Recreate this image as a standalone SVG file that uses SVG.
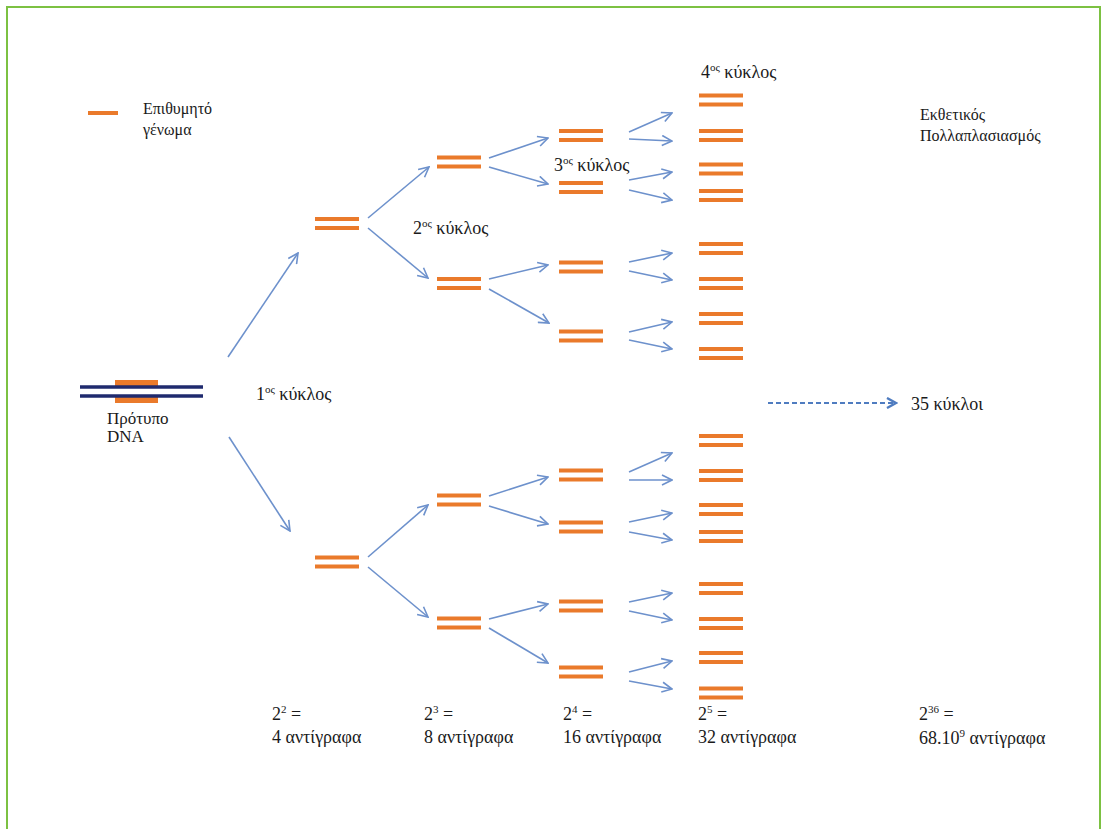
<svg xmlns="http://www.w3.org/2000/svg" width="1103" height="829" viewBox="0 0 1103 829" font-family="'Liberation Serif', 'DejaVu Serif', serif">
<style>
text{font-family:'Liberation Serif','Times New Roman',serif;fill:#1a1a1a;font-size:18px}
.sm{font-size:16px}
.md{font-size:17px}
.sup{font-size:11px}
.pl{stroke:#ea7a2b;stroke-width:4;fill:none}
.ar{stroke:#6d91cc;stroke-width:1.6;fill:none;marker-end:url(#ah)}
</style>
<defs>
<marker id="ah" viewBox="0 0 12 12" refX="11" refY="6" markerWidth="12" markerHeight="12" markerUnits="userSpaceOnUse" orient="auto">
<path d="M1,1 L11,6 L1,11" fill="none" stroke="#6d91cc" stroke-width="1.6"/>
</marker>
<marker id="dh" viewBox="0 0 12 12" refX="10" refY="6" markerWidth="12" markerHeight="12" markerUnits="userSpaceOnUse" orient="auto">
<path d="M1,1 L10,6 L1,11" fill="none" stroke="#4f7cc0" stroke-width="2.4"/>
</marker>
<g id="pair"><line class="pl" x1="0" y1="-4.5" x2="44" y2="-4.5"/><line class="pl" x1="0" y1="4.5" x2="44" y2="4.5"/></g>
</defs>
<rect x="0" y="0" width="1103" height="829" fill="#fff"/>
<rect x="7" y="7" width="1093" height="840" fill="none" stroke="#7cc142" stroke-width="2"/>

<g id="legend">
<line x1="88" y1="113" x2="118" y2="113" stroke="#ea7a2b" stroke-width="4"/>
<text class="sm" x="143" y="114">Επιθυμητό</text>
<text class="sm" x="143" y="135">γένωμα</text>
</g>

<g id="template">
<rect x="115" y="380" width="43" height="8" fill="#ea7a2b"/>
<rect x="115" y="395" width="43" height="8" fill="#ea7a2b"/>
<line x1="80" y1="387" x2="203" y2="387" stroke="#1f2a6e" stroke-width="3.5"/>
<line x1="80" y1="396" x2="203" y2="396" stroke="#1f2a6e" stroke-width="3.5"/>
<text class="md" x="107" y="424">Πρότυπο</text>
<text class="md" x="107" y="442">DNA</text>
</g>

<g id="level1">
<use href="#pair" x="315" y="223.5"/>
<use href="#pair" x="315" y="562"/>
</g>
<g id="level2">
<use href="#pair" x="437" y="162"/>
<use href="#pair" x="437" y="283.5"/>
<use href="#pair" x="437" y="500"/>
<use href="#pair" x="437" y="623"/>
</g>
<g id="level3">
<use href="#pair" x="559" y="135.5"/>
<use href="#pair" x="559" y="187.5"/>
<use href="#pair" x="559" y="267"/>
<use href="#pair" x="559" y="336"/>
<use href="#pair" x="559" y="475"/>
<use href="#pair" x="559" y="527"/>
<use href="#pair" x="559" y="606"/>
<use href="#pair" x="559" y="672"/>
</g>
<g id="level4">
<use href="#pair" x="699" y="100"/>
<use href="#pair" x="699" y="135.5"/>
<use href="#pair" x="699" y="169"/>
<use href="#pair" x="699" y="195.5"/>
<use href="#pair" x="699" y="248.5"/>
<use href="#pair" x="699" y="283.5"/>
<use href="#pair" x="699" y="318.5"/>
<use href="#pair" x="699" y="353.5"/>
<use href="#pair" x="699" y="440.5"/>
<use href="#pair" x="699" y="475.5"/>
<use href="#pair" x="699" y="509.5"/>
<use href="#pair" x="699" y="536.5"/>
<use href="#pair" x="699" y="588.5"/>
<use href="#pair" x="699" y="623.5"/>
<use href="#pair" x="699" y="657.5"/>
<use href="#pair" x="699" y="693"/>
</g>

<g id="connectors">
<line class="ar" x1="228" y1="357" x2="298" y2="253"/>
<line class="ar" x1="229" y1="437" x2="290" y2="531"/>
<line class="ar" x1="368" y1="218" x2="429" y2="167"/>
<line class="ar" x1="368" y1="228" x2="428" y2="278"/>
<line class="ar" x1="368" y1="557" x2="428" y2="505"/>
<line class="ar" x1="368" y1="567" x2="428" y2="617"/>
<line class="ar" x1="489" y1="158" x2="548" y2="138"/>
<line class="ar" x1="489" y1="167" x2="548" y2="184"/>
<line class="ar" x1="489" y1="279" x2="548" y2="265"/>
<line class="ar" x1="489" y1="289" x2="549" y2="323"/>
<line class="ar" x1="489" y1="496" x2="548" y2="477"/>
<line class="ar" x1="489" y1="506" x2="548" y2="524"/>
<line class="ar" x1="489" y1="619" x2="548" y2="604"/>
<line class="ar" x1="489" y1="628" x2="548" y2="663"/>
<line class="ar" x1="629" y1="132" x2="672" y2="113"/>
<line class="ar" x1="629" y1="139" x2="672" y2="141"/>
<line class="ar" x1="629" y1="180" x2="672" y2="172"/>
<line class="ar" x1="629" y1="190" x2="672" y2="200"/>
<line class="ar" x1="629" y1="262" x2="672" y2="253"/>
<line class="ar" x1="629" y1="271" x2="672" y2="280"/>
<line class="ar" x1="629" y1="332" x2="672" y2="322"/>
<line class="ar" x1="629" y1="340" x2="672" y2="349"/>
<line class="ar" x1="629" y1="472" x2="672" y2="453"/>
<line class="ar" x1="629" y1="480" x2="672" y2="480"/>
<line class="ar" x1="629" y1="522" x2="672" y2="513"/>
<line class="ar" x1="629" y1="532" x2="672" y2="540"/>
<line class="ar" x1="629" y1="602" x2="672" y2="593"/>
<line class="ar" x1="629" y1="611" x2="672" y2="620"/>
<line class="ar" x1="629" y1="672" x2="672" y2="661"/>
<line class="ar" x1="629" y1="681" x2="672" y2="689"/>
<line x1="768" y1="403" x2="896" y2="403" stroke="#4f7cc0" stroke-width="1.8" stroke-dasharray="5,3" marker-end="url(#dh)"/>
</g>

<g id="cycle-labels">
<text x="256" y="400">1<tspan class="sup" dy="-7">ος</tspan><tspan dy="7"> κύκλος</tspan></text>
<text x="413" y="234">2<tspan class="sup" dy="-7">ος</tspan><tspan dy="7"> κύκλος</tspan></text>
<text x="554" y="171">3<tspan class="sup" dy="-7">ος</tspan><tspan dy="7"> κύκλος</tspan></text>
<text x="701" y="78">4<tspan class="sup" dy="-7">ος</tspan><tspan dy="7"> κύκλος</tspan></text>
<text x="911" y="410" font-size="18.5">35 κύκλοι</text>
<text class="sm" x="920" y="120">Εκθετικός</text>
<text class="sm" x="920" y="141">Πολλαπλασιασμός</text>
</g>

<g id="count-labels">
<text x="272" y="720">2<tspan class="sup" dy="-7">2</tspan><tspan dy="7"> =</tspan></text>
<text x="272" y="743">4 αντίγραφα</text>
<text x="424" y="720">2<tspan class="sup" dy="-7">3</tspan><tspan dy="7"> =</tspan></text>
<text x="424" y="743">8 αντίγραφα</text>
<text x="563" y="720">2<tspan class="sup" dy="-7">4</tspan><tspan dy="7"> =</tspan></text>
<text x="563" y="743">16 αντίγραφα</text>
<text x="698" y="720">2<tspan class="sup" dy="-7">5</tspan><tspan dy="7"> =</tspan></text>
<text x="698" y="743">32 αντίγραφα</text>
<text x="919" y="720">2<tspan class="sup" dy="-7">36</tspan><tspan dy="7"> =</tspan></text>
<text x="919" y="744">68.10<tspan class="sup" dy="-7">9</tspan><tspan dy="7"> αντίγραφα</tspan></text>
</g>
</svg>
